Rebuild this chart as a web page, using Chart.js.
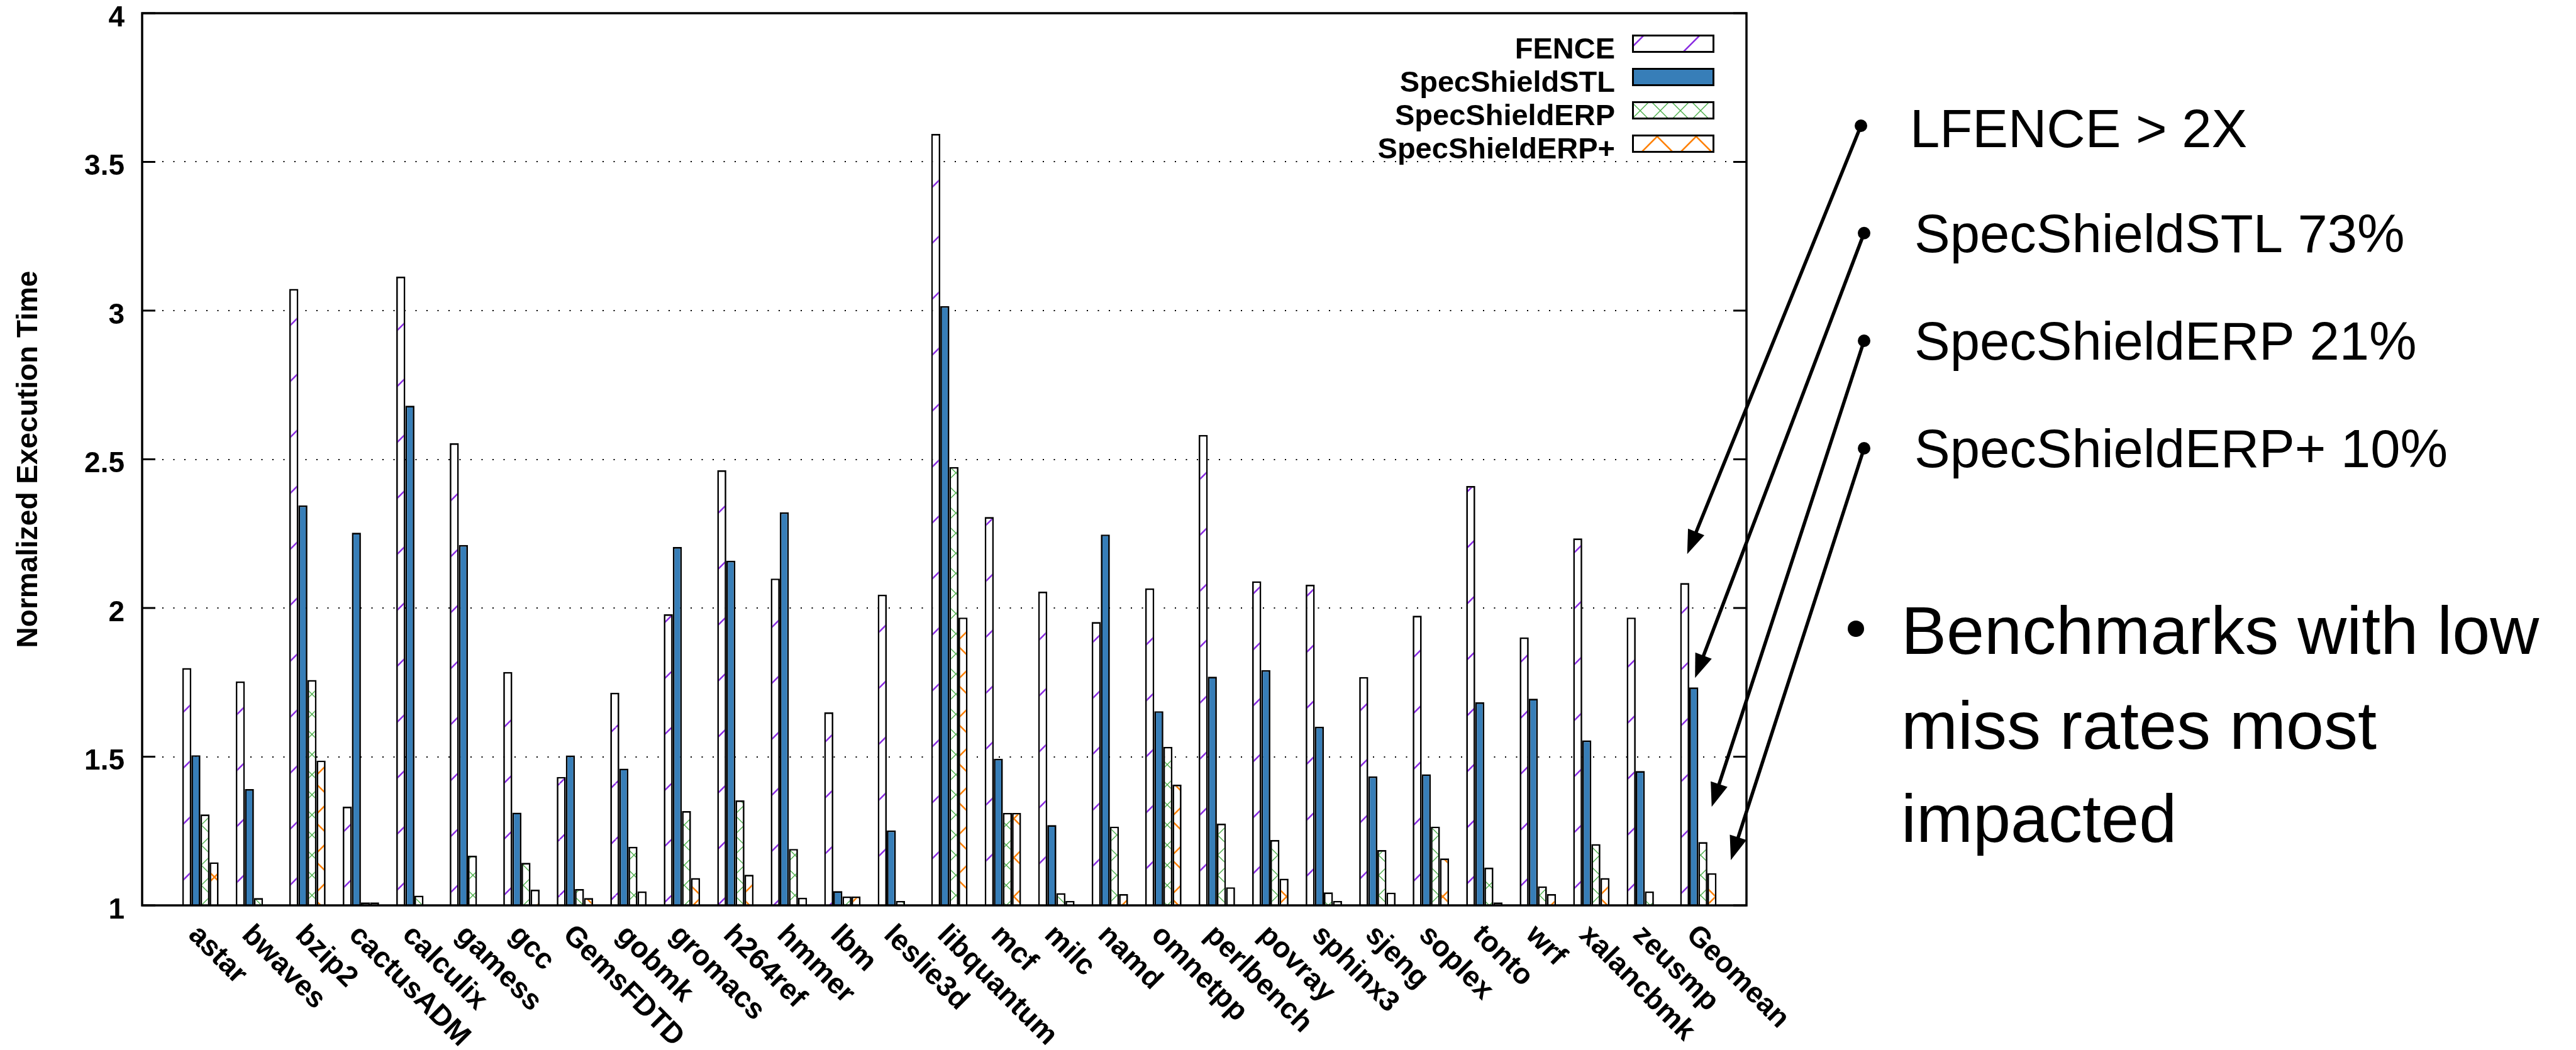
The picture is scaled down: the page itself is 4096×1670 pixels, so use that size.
<!DOCTYPE html>
<html>
<head>
<meta charset="utf-8">
<title>Normalized Execution Time</title>
<style>
  html, body { margin: 0; padding: 0; background: #ffffff; }
  #wrap { width: 4096px; height: 1670px; }
  canvas { display: block; }
</style>
<script src="https://cdn.jsdelivr.net/npm/chart.js@4.4.1/dist/chart.umd.min.js"></script>
</head>
<body>
<div id="wrap"><canvas id="chart" width="4096" height="1670"></canvas></div>
<script>
// Benchmarks (SPEC CPU2006) plus the geometric mean
const categories = ['astar', 'bwaves', 'bzip2', 'cactusADM', 'calculix', 'gamess', 'gcc', 'GemsFDTD',
  'gobmk', 'gromacs', 'h264ref', 'hmmer', 'lbm', 'leslie3d', 'libquantum', 'mcf', 'milc', 'namd',
  'omnetpp', 'perlbench', 'povray', 'sphinx3', 'sjeng', 'soplex', 'tonto', 'wrf', 'xalancbmk',
  'zeusmp', 'Geomean'];

const seriesNames = ['FENCE', 'SpecShieldSTL', 'SpecShieldERP', 'SpecShieldERP+'];

// Execution time normalized to the unprotected baseline
const fence = [1.798, 1.753, 3.073, 1.332, 3.114, 2.554, 1.785, 1.432, 1.715, 1.979, 2.463, 2.099,
  1.649, 2.045, 3.594, 2.306, 2.055, 1.953, 2.066, 2.582, 2.090, 2.078, 1.768, 1.974, 2.410, 1.901,
  2.234, 1.968, 2.084];
const specShieldSTL = [1.505, 1.391, 2.345, 2.253, 2.680, 2.212, 1.312, 1.504, 1.460, 2.205, 2.159,
  2.322, 1.048, 1.252, 3.015, 1.493, 1.270, 2.247, 1.653, 1.769, 1.791, 1.601, 1.434, 1.441, 1.683,
  1.695, 1.555, 1.452, 1.733];
const specShieldERP = [1.306, 1.025, 1.758, 1.010, 1.033, 1.167, 1.143, 1.055, 1.197, 1.317, 1.353,
  1.190, 1.030, 1.015, 2.474, 1.311, 1.041, 1.265, 1.533, 1.275, 1.220, 1.044, 1.186, 1.265, 1.127,
  1.064, 1.206, 1.047, 1.213];
const specShieldERPPlus = [1.145, 1.000, 1.487, 1.010, 1.000, 1.000, 1.053, 1.025, 1.047, 1.092,
  1.103, 1.026, 1.030, 1.000, 1.968, 1.311, 1.015, 1.038, 1.406, 1.061, 1.090, 1.015, 1.043, 1.158,
  1.010, 1.038, 1.092, 1.000, 1.108];

const yTickLabels = ['1', '1.5', '2', '2.5', '3', '3.5', '4'];

const notes = ['LFENCE > 2X', 'SpecShieldSTL 73%', 'SpecShieldERP 21%', 'SpecShieldERP+ 10%'];
const bulletLines = ['Benchmarks with low', 'miss rates most', 'impacted'];

const FONT = '"Liberation Sans", Arial, Helvetica, sans-serif';

// Hatched fills: '/' and '\' strokes repeating every `period` pixels
function hatch(period, color, width, dirs) {
  const p = Math.round(period);
  const c = document.createElement('canvas');
  c.width = p; c.height = p;
  const g = c.getContext('2d');
  g.fillStyle = '#ffffff';
  g.fillRect(0, 0, p, p);
  g.strokeStyle = color;
  g.lineWidth = width;
  for (const d of dirs) {
    for (let k = -1; k <= 1; k++) {
      g.beginPath();
      if (d === '/') { g.moveTo(k * p, p); g.lineTo(k * p + p, 0); }
      else { g.moveTo(k * p, 0); g.lineTo(k * p + p, p); }
      g.stroke();
    }
  }
  return g.createPattern(c, 'repeat');
}

const fills = [
  hatch(89, '#8a2be2', 2.6, ['/']),
  '#377eb8',
  hatch(32, '#4daf4a', 1.4, ['/', '\\']),
  hatch(62, '#ff7f00', 2.6, ['/', '\\'])
];

const seriesValues = [fence, specShieldSTL, specShieldERP, specShieldERPPlus];

function line(ctx, x0, y0, x1, y1) {
  ctx.beginPath(); ctx.moveTo(x0, y0); ctx.lineTo(x1, y1); ctx.stroke();
}

function arrow(ctx, x0, y0, x1, y1) {
  const ang = Math.atan2(y1 - y0, x1 - x0);
  const L = 38, W = 14;
  const bx = x1 - L * Math.cos(ang), by = y1 - L * Math.sin(ang);
  ctx.lineWidth = 5.5;
  line(ctx, x0, y0, bx + 4 * Math.cos(ang), by + 4 * Math.sin(ang));
  ctx.beginPath();
  ctx.moveTo(x1, y1);
  ctx.lineTo(bx + W * Math.sin(ang), by - W * Math.cos(ang));
  ctx.lineTo(bx - W * Math.sin(ang), by + W * Math.cos(ang));
  ctx.closePath();
  ctx.fill();
}

// Dotted horizontal grid at the inner y ticks
const gridPlugin = {
  id: 'dottedGrid',
  beforeDatasetsDraw(chart) {
    const { ctx, chartArea: a, scales: { y } } = chart;
    ctx.save();
    ctx.strokeStyle = '#000000';
    ctx.lineWidth = 2;
    ctx.setLineDash([2, 15.5]);
    y.ticks.forEach(t => {
      if (t.value <= y.min || t.value >= y.max) return;
      const py = Math.round(y.getPixelForValue(t.value));
      line(ctx, a.left + 32, py, a.right - 24, py);
    });
    ctx.restore();
  }
};

// Frame, inward ticks, slanted category labels, legend and side notes
const decorPlugin = {
  id: 'decor',
  afterDatasetsDraw(chart) {
    const { ctx, chartArea: a, scales: { x, y } } = chart;
    ctx.save();

    // plot frame
    ctx.strokeStyle = '#000000';
    ctx.lineWidth = 3.5;
    ctx.strokeRect(a.left, a.top, a.right - a.left, a.bottom - a.top);

    // inward tick marks on both y axes
    ctx.lineWidth = 3;
    y.ticks.forEach(t => {
      const py = y.getPixelForValue(t.value);
      line(ctx, a.left, py, a.left + 21, py);
      line(ctx, a.right - 21, py, a.right, py);
    });

    // category labels, rotated 45 degrees clockwise
    ctx.fillStyle = '#000000';
    ctx.font = 'bold 46px ' + FONT;
    ctx.textAlign = 'left';
    ctx.textBaseline = 'alphabetic';
    categories.forEach((lab, i) => {
      const px = x.getPixelForValue(i);
      ctx.save();
      ctx.translate(px - 21, a.bottom + 49);
      ctx.rotate(Math.PI / 4);
      ctx.fillText(lab, 0, 0);
      ctx.restore();
    });

    // legend: right-aligned names with sample boxes
    ctx.font = 'bold 47px ' + FONT;
    ctx.textAlign = 'right';
    chart.data.datasets.forEach((ds, s) => {
      const base = a.top + 72 + 53 * s;
      ctx.fillStyle = '#000000';
      ctx.fillText(ds.label, a.right - 209, base);
      const bx = a.right - 182, by = base - 38, bw = 131, bh = 29;
      ctx.fillStyle = ds.backgroundColor;
      ctx.fillRect(bx + 1.5, by + 1.5, bw - 3, bh - 3);
      ctx.strokeStyle = '#000000';
      ctx.lineWidth = 3;
      ctx.strokeRect(bx + 1.5, by + 1.5, bw - 3, bh - 3);
    });

    ctx.restore();
  },
  afterDraw(chart) {
    const { ctx } = chart;
    ctx.save();
    ctx.fillStyle = '#000000';
    ctx.strokeStyle = '#000000';

    // summary notes, each with an arrow to the matching Geomean bar
    const noteX = [3037, 3044, 3044, 3044];
    const noteBase = [233.5, 400.7, 572, 743];
    const dotX = [2959, 2964, 2964, 2964];
    const tipOff = [[4, -46], [2, -15], [14, -56], [30, -21]];
    const last = categories.length - 1;
    ctx.font = '85px ' + FONT;
    ctx.textAlign = 'left';
    ctx.textBaseline = 'alphabetic';
    notes.forEach((txt, s) => {
      ctx.fillText(txt, noteX[s], noteBase[s]);
      const dx = dotX[s], dy = noteBase[s] - (s === 0 ? 33.5 : 30);
      ctx.beginPath();
      ctx.arc(dx, dy, 10, 0, Math.PI * 2);
      ctx.fill();
      const el = chart.getDatasetMeta(s).data[last];
      arrow(ctx, dx, dy, el.x + tipOff[s][0], el.y + tipOff[s][1]);
    });

    // bullet paragraph
    ctx.font = '108px ' + FONT;
    const paraBase = [1040, 1191, 1339];
    bulletLines.forEach((txt, i) => ctx.fillText(txt, 3023, paraBase[i]));
    ctx.beginPath();
    ctx.arc(2951, 1000, 13, 0, Math.PI * 2);
    ctx.fill();

    ctx.restore();
  }
};

const chart = new Chart(document.getElementById('chart').getContext('2d'), {
  type: 'bar',
  data: {
    datasets: seriesValues.map((vals, s) => ({
      label: seriesNames[s],
      data: vals.map((v, i) => ({ x: i, y: v })),
      backgroundColor: fills[s],
      borderColor: '#000000',
      borderWidth: 2.7,
      borderSkipped: 'start',
      categoryPercentage: 0.68,
      barPercentage: 1.0
    }))
  },
  options: {
    responsive: false,
    animation: false,
    devicePixelRatio: 1,
    layout: { padding: { left: 0, top: 21, right: 1319, bottom: 230 } },
    plugins: { legend: { display: false }, tooltip: { enabled: false } },
    scales: {
      x: {
        type: 'linear',
        min: -1.09,
        max: 28.9,
        display: false,
        offset: false,
        ticks: { stepSize: 1, includeBounds: false }
      },
      y: {
        min: 1,
        max: 4,
        afterFit: s => { s.width = 226; s.paddingTop = 0; s.paddingBottom = 0; },
        grid: { display: false, drawTicks: false },
        border: { display: false },
        ticks: {
          stepSize: 0.5,
          color: '#000000',
          padding: 28,
          labelOffset: 8,
          font: { family: FONT, weight: 'bold', size: 46 },
          callback: v => yTickLabels[Math.round((v - 1) / 0.5)]
        },
        title: {
          display: true,
          text: 'Normalized Execution Time',
          color: '#000000',
          font: { family: FONT, weight: 'bold', size: 46, lineHeight: 1.2 },
          padding: { top: 19, bottom: 0 }
        }
      }
    }
  },
  plugins: [gridPlugin, decorPlugin]
});
</script>
</body>
</html>
